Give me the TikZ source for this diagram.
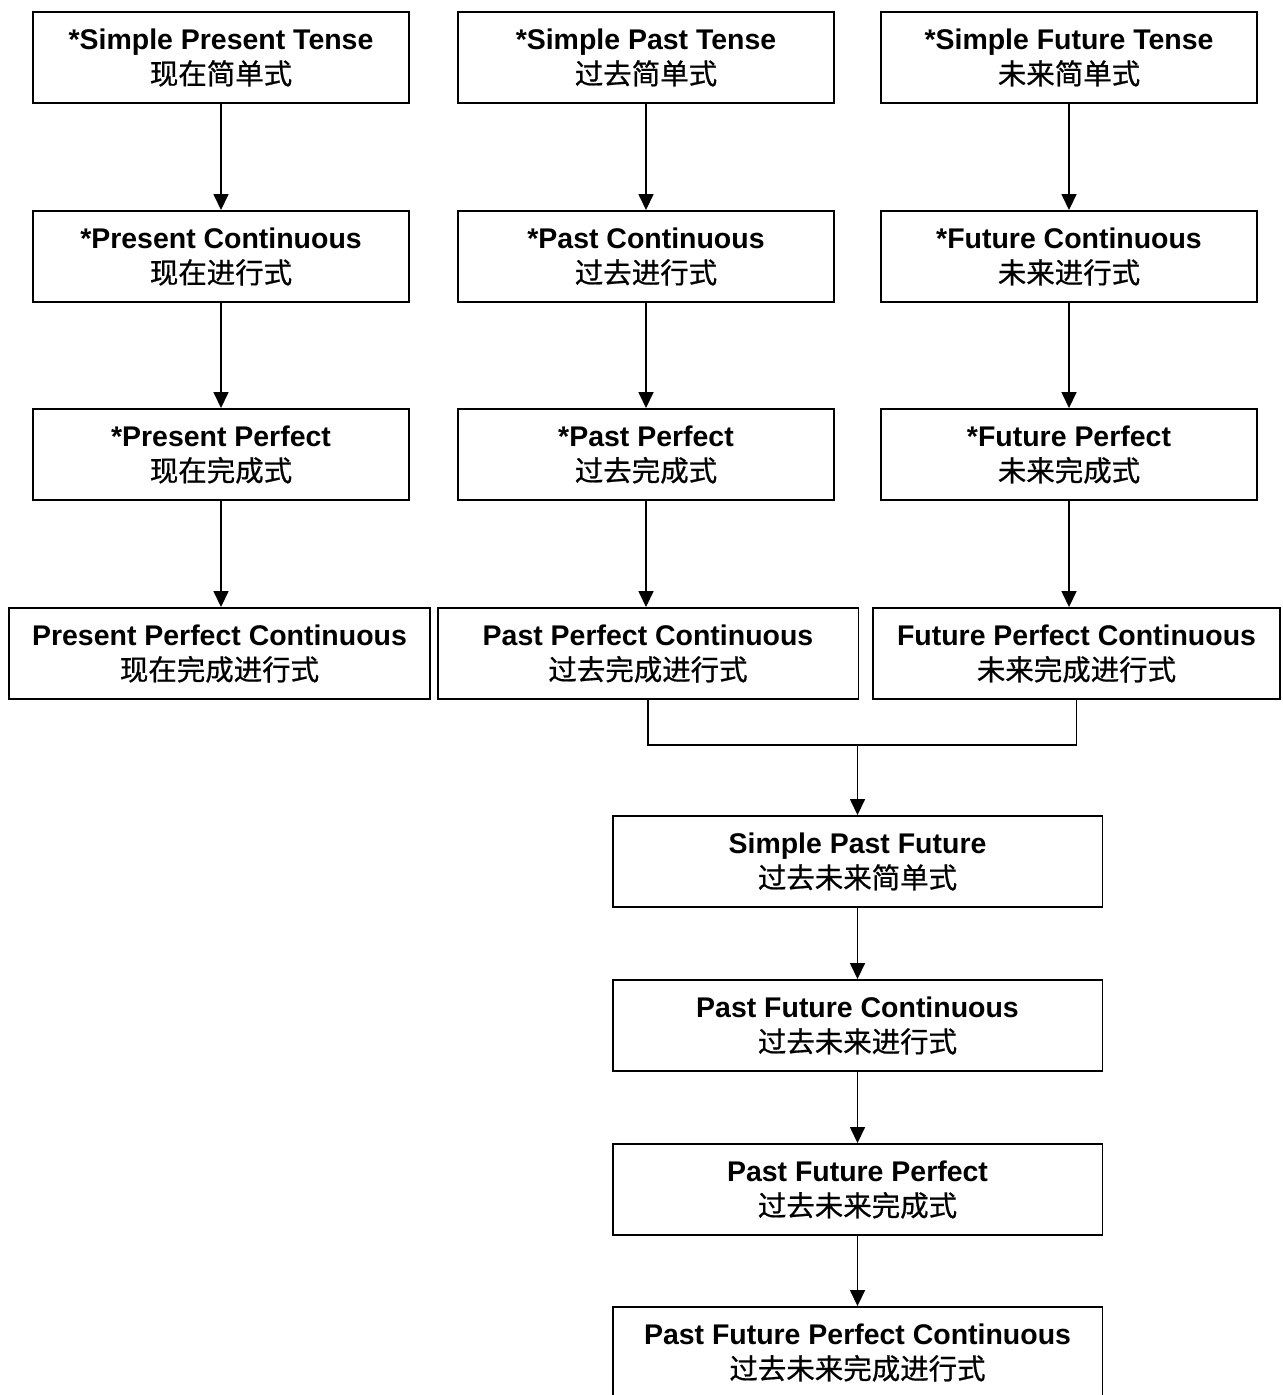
\documentclass[tikz,border=0pt]{standalone}
\usepackage{fontspec}
\setmainfont{Liberation Sans}
\newfontfamily\cjk[FakeBold=0.7]{Noto Sans CJK SC}
\usetikzlibrary{arrows.meta}
\tikzset{
  tense/.style={draw,line width=1.1pt,minimum width=7.52cm,minimum height=1.82cm,
    align=center,inner sep=0pt,font=\fontsize{16.2}{20}\selectfont},
  widetense/.style={tense,minimum width=8.42cm},
  pftense/.style={tense,minimum width=9.8cm},
  arr/.style={line width=0.9pt,-{Triangle[length=0.32cm,width=0.3cm]}},
  link/.style={line width=0.9pt}
}
\newcommand{\tname}[2]{\textbf{#1}\\{\cjk #2}}
\begin{document}
\begin{tikzpicture}[x=0.02cm,y=-0.02cm]
\useasboundingbox (0,0) rectangle (1282,1395);

% present
\node[tense] (p1) at (221,57.5) {\tname{*Simple Present Tense}{现在简单式}};
\node[tense] (p2) at (221,256.5) {\tname{*Present Continuous}{现在进行式}};
\node[tense] (p3) at (221,454.5) {\tname{*Present Perfect}{现在完成式}};
\node[widetense] (p4) at (219.5,653.5) {\tname{Present Perfect Continuous}{现在完成进行式}};

% past
\node[tense] (s1) at (646,57.5) {\tname{*Simple Past Tense}{过去简单式}};
\node[tense] (s2) at (646,256.5) {\tname{*Past Continuous}{过去进行式}};
\node[tense] (s3) at (646,454.5) {\tname{*Past Perfect}{过去完成式}};
\node[widetense] (s4) at (648,653.5) {\tname{Past Perfect Continuous}{过去完成进行式}};

% future
\node[tense] (f1) at (1069,57.5) {\tname{*Simple Future Tense}{未来简单式}};
\node[tense] (f2) at (1069,256.5) {\tname{*Future Continuous}{未来进行式}};
\node[tense] (f3) at (1069,454.5) {\tname{*Future Perfect}{未来完成式}};
\node[widetense,minimum width=8.14cm] (f4) at (1076.5,653.5) {\tname{Future Perfect Continuous}{未来完成进行式}};

% past future
\node[pftense] (b1) at (857.5,861.5) {\tname{Simple Past Future}{过去未来简单式}};
\node[pftense] (b2) at (857.5,1025.5) {\tname{Past Future Continuous}{过去未来进行式}};
\node[pftense] (b3) at (857.5,1189.5) {\tname{Past Future Perfect}{过去未来完成式}};
\node[pftense] (b4) at (857.5,1352.5) {\tname{Past Future Perfect Continuous}{过去未来完成进行式}};

\foreach \a/\b in {p1/p2,p2/p3,p3/p4,s1/s2,s2/s3,s3/s4,f1/f2,f2/f3,f3/f4,b1/b2,b2/b3,b3/b4}
{
   \draw[arr] (\a.south) -- (\a.south |- \b.north);
}

\coordinate (join) at (857.5,745);
\draw[link] (s4.south) |- (join) -| (f4.south);
\draw[arr] (join) -- (b1.north);
\end{tikzpicture}
\end{document}
